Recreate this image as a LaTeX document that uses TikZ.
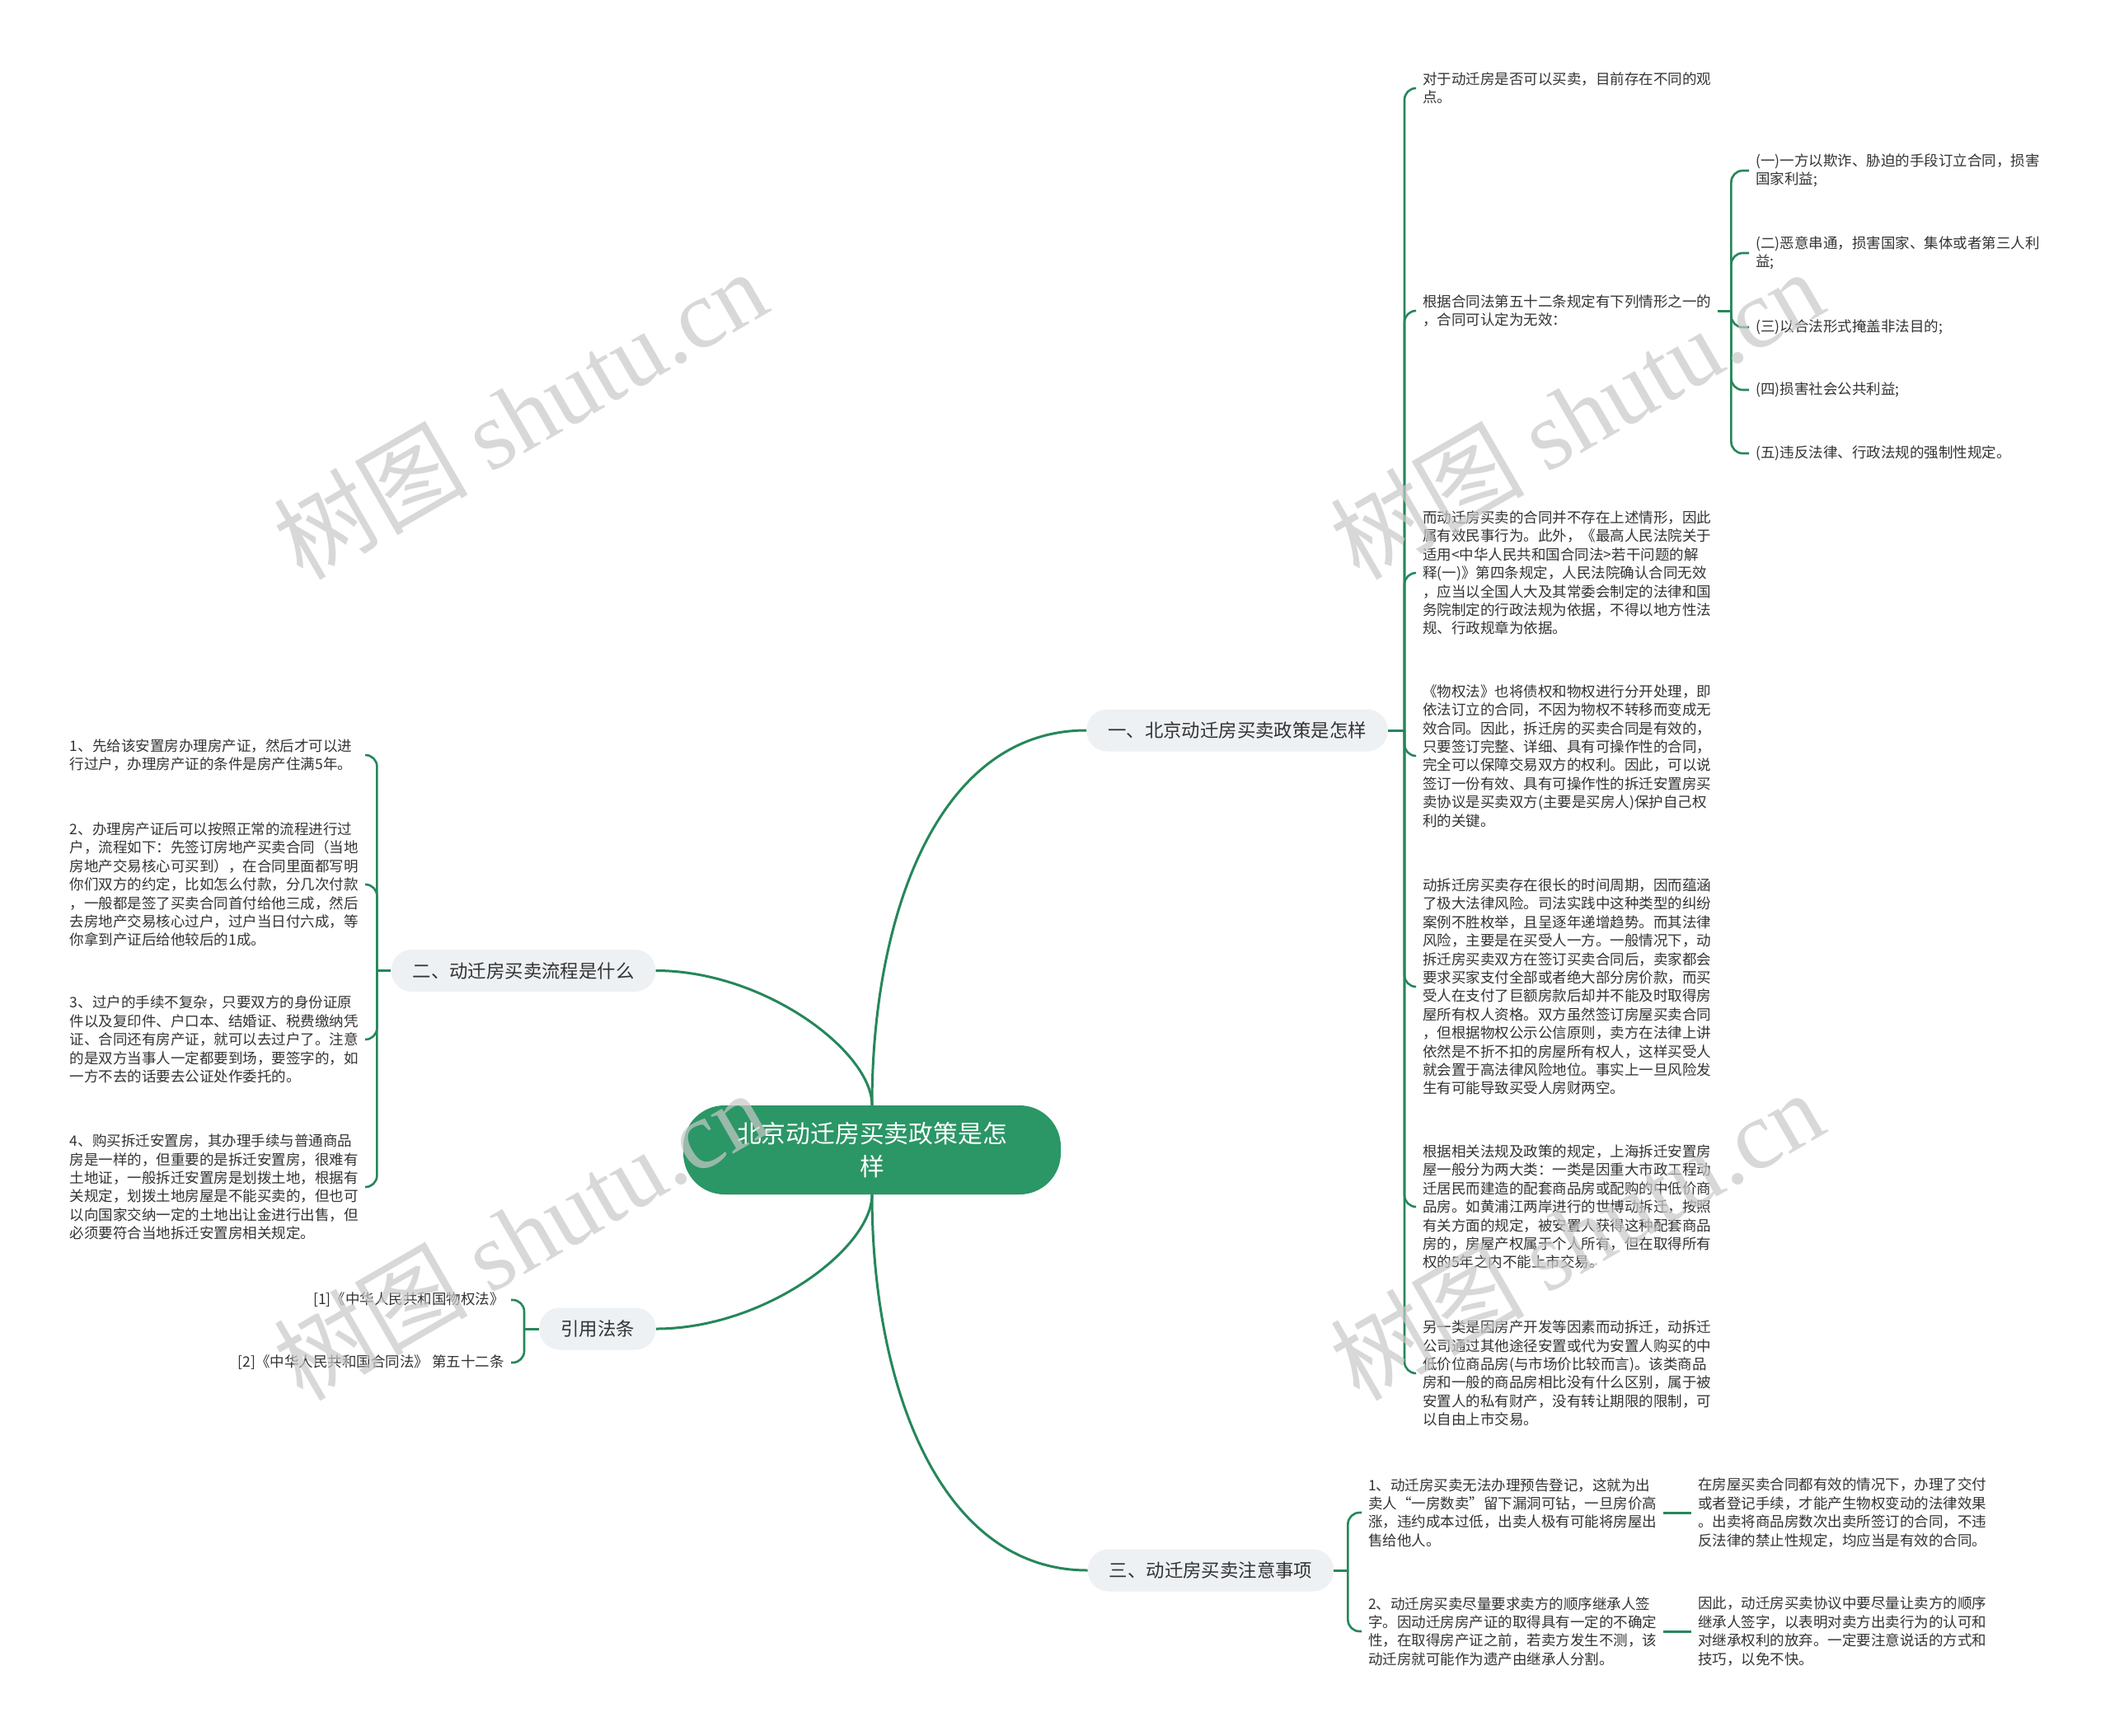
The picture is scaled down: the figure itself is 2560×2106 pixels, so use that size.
\documentclass[tikz,border=0pt]{standalone}
\usepackage{fontspec}
\setmainfont{Noto Sans CJK SC}
\newfontfamily\wmcjk{Noto Sans CJK SC}
\newfontfamily\wmlatin{Liberation Serif}
\usetikzlibrary{calc}
\definecolor{lk}{HTML}{25875A}
\definecolor{rootc}{HTML}{2B9666}
\definecolor{boxc}{HTML}{EEF1F4}
\definecolor{txt}{HTML}{333333}
\definecolor{wm}{RGB}{200,200,200}
\begin{document}
\begin{tikzpicture}[x=1pt,y=-1pt,
  leaf/.style={inner xsep=8, inner ysep=4, align=left, text=txt, font=\fontsize{17.5}{22.4}\selectfont},
  leafl/.style={leaf, text width=350},
  leafr/.style={leaf, align=right},
  branch/.style={fill=boxc, rounded corners=25, minimum height=51, inner xsep=26, text=txt, font=\fontsize{22.4}{28}\selectfont},
  rootn/.style={fill=rootc, rounded corners=50, minimum width=458, minimum height=108, text=white, align=center, font=\fontsize{29.8}{40}\selectfont},
  link/.style={draw=lk, line width=3},
  blink/.style={draw=lk, line width=2.6, rounded corners=14},
  wmk/.style={text=wm, text opacity=0.7, rotate=30, anchor=base, font=\fontsize{118}{130}\selectfont}
]
\fill[white] (0,0) rectangle (2560,2106);
\path[use as bounding box] (0,0) rectangle (2560,2106);

% root and branches
\node[rootn] (root) at (1058,1395) {北京动迁房买卖政策是怎\\样};
\node[branch] (b1) at (1501,886) {一、北京动迁房买卖政策是怎样};
\node[branch] (b2) at (635,1177.5) {二、动迁房买卖流程是什么};
\node[branch] (b3) at (725,1612) {引用法条};
\node[branch] (b4) at (1469,1905) {三、动迁房买卖注意事项};

\draw[link] (root.north) .. controls +(0,-227) and +(-182,0) .. (b1.west);
\draw[link] (root.north) .. controls +(0,-65) and +(132,0) .. (b2.east);
\draw[link] (root.south) .. controls +(0,65) and +(132,0) .. (b3.east);
\draw[link] (root.south) .. controls +(0,227) and +(-182,0) .. (b4.west);

% branch 1 children
\node[leaf, anchor=west] (c1) at (1718,107) {对于动迁房是否可以买卖，目前存在不同的观\\点。};
\node[leaf, anchor=west] (c2) at (1718,377) {根据合同法第五十二条规定有下列情形之一的\\，合同可认定为无效：};
\node[leaf, anchor=west] (c3) at (1718,695) {而动迁房买卖的合同并不存在上述情形，因此\\属有效民事行为。此外，《最高人民法院关于\\适用<中华人民共和国合同法>若干问题的解\\释(一)》第四条规定，人民法院确认合同无效\\，应当以全国人大及其常委会制定的法律和国\\务院制定的行政法规为依据，不得以地方性法\\规、行政规章为依据。};
\node[leaf, anchor=west] (c4) at (1718,917) {《物权法》也将债权和物权进行分开处理，即\\依法订立的合同，不因为物权不转移而变成无\\效合同。因此，拆迁房的买卖合同是有效的，\\只要签订完整、详细、具有可操作性的合同，\\完全可以保障交易双方的权利。因此，可以说\\签订一份有效、具有可操作性的拆迁安置房买\\卖协议是买卖双方(主要是买房人)保护自己权\\利的关键。};
\node[leaf, anchor=west] (c5) at (1718,1197) {动拆迁房买卖存在很长的时间周期，因而蕴涵\\了极大法律风险。司法实践中这种类型的纠纷\\案例不胜枚举，且呈逐年递增趋势。而其法律\\风险，主要是在买受人一方。一般情况下，动\\拆迁房买卖双方在签订买卖合同后，卖家都会\\要求买家支付全部或者绝大部分房价款，而买\\受人在支付了巨额房款后却并不能及时取得房\\屋所有权人资格。双方虽然签订房屋买卖合同\\，但根据物权公示公信原则，卖方在法律上讲\\依然是不折不扣的房屋所有权人，这样买受人\\就会置于高法律风险地位。事实上一旦风险发\\生有可能导致买受人房财两空。};
\node[leaf, anchor=west] (c6) at (1718,1464) {根据相关法规及政策的规定，上海拆迁安置房\\屋一般分为两大类：一类是因重大市政工程动\\迁居民而建造的配套商品房或配购的中低价商\\品房。如黄浦江两岸进行的世博动拆迁，按照\\有关方面的规定，被安置人获得这种配套商品\\房的，房屋产权属于个人所有，但在取得所有\\权的5年之内不能上市交易。};
\node[leaf, anchor=west] (c7) at (1718,1666) {另一类是因房产开发等因素而动拆迁，动拆迁\\公司通过其他途径安置或代为安置人购买的中\\低价位商品房(与市场价比较而言)。该类商品\\房和一般的商品房相比没有什么区别，属于被\\安置人的私有财产，没有转让期限的限制，可\\以自由上市交易。};

\coordinate (j1) at ($(b1.east)+(20,0)$);
\draw[link] (b1.east) -- (j1);
\foreach \c in {c1,c2,c3,c4,c5,c6,c7} \draw[blink] (j1) |- (\c.west);

% sub children of c2
\node[leaf, anchor=west] (s1) at (2122,207) {(一)一方以欺诈、胁迫的手段订立合同，损害\\国家利益;};
\node[leaf, anchor=west] (s2) at (2122,307) {(二)恶意串通，损害国家、集体或者第三人利\\益;};
\node[leaf, anchor=west] (s3) at (2122,397) {(三)以合法形式掩盖非法目的;};
\node[leaf, anchor=west] (s4) at (2122,473) {(四)损害社会公共利益;};
\node[leaf, anchor=west] (s5) at (2122,550) {(五)违反法律、行政法规的强制性规定。};
\coordinate (j2) at ($(c2.east)+(16,0)$);
\draw[link] (c2.east) -- (j2);
\foreach \c in {s1,s2,s3,s4,s5} \draw[blink] (j2) |- (\c.west);

% branch 2 children
\node[leafl, anchor=east] (l1) at (443,916) {1、先给该安置房办理房产证，然后才可以进\\行过户，办理房产证的条件是房产住满5年。};
\node[leafl, anchor=east] (l2) at (443,1073) {2、办理房产证后可以按照正常的流程进行过\\户，流程如下：先签订房地产买卖合同（当地\\房地产交易核心可买到），在合同里面都写明\\你们双方的约定，比如怎么付款，分几次付款\\，一般都是签了买卖合同首付给他三成，然后\\去房地产交易核心过户，过户当日付六成，等\\你拿到产证后给他较后的1成。};
\node[leafl, anchor=east] (l3) at (443,1261) {3、过户的手续不复杂，只要双方的身份证原\\件以及复印件、户口本、结婚证、税费缴纳凭\\证、合同还有房产证，就可以去过户了。注意\\的是双方当事人一定都要到场，要签字的，如\\一方不去的话要去公证处作委托的。};
\node[leafl, anchor=east] (l4) at (443,1440) {4、购买拆迁安置房，其办理手续与普通商品\\房是一样的，但重要的是拆迁安置房，很难有\\土地证，一般拆迁安置房是划拨土地，根据有\\关规定，划拨土地房屋是不能买卖的，但也可\\以向国家交纳一定的土地出让金进行出售，但\\必须要符合当地拆迁安置房相关规定。};
\coordinate (j3) at ($(b2.west)+(-17,0)$);
\draw[link] (b2.west) -- (j3);
\foreach \c in {l1,l2,l3,l4} \draw[blink] (j3) |- (\c.east);

% branch 3 children
\node[leafr, anchor=east] (r1) at (620,1577) {[1]《中华人民共和国物权法》};
\node[leafr, anchor=east] (r2) at (620,1653) {[2]《中华人民共和国合同法》 第五十二条};
\coordinate (j4) at ($(b3.west)+(-18,0)$);
\draw[link] (b3.west) -- (j4);
\foreach \c in {r1,r2} \draw[blink] (j4) |- (\c.east);

% branch 4 children
\node[leaf, anchor=west] (n1) at (1652,1835) {1、动迁房买卖无法办理预告登记，这就为出\\卖人“一房数卖”留下漏洞可钻，一旦房价高\\涨，违约成本过低，出卖人极有可能将房屋出\\售给他人。};
\node[leaf, anchor=west] (n2) at (1652,1979) {2、动迁房买卖尽量要求卖方的顺序继承人签\\字。因动迁房房产证的取得具有一定的不确定\\性，在取得房产证之前，若卖方发生不测，该\\动迁房就可能作为遗产由继承人分割。};
\coordinate (j5) at ($(b4.east)+(17,0)$);
\draw[link] (b4.east) -- (j5);
\foreach \c in {n1,n2} \draw[blink] (j5) |- (\c.west);

\node[leaf, anchor=west] (g1) at (2052,1835) {在房屋买卖合同都有效的情况下，办理了交付\\或者登记手续，才能产生物权变动的法律效果\\。出卖将商品房数次出卖所签订的合同，不违\\反法律的禁止性规定，均应当是有效的合同。};
\node[leaf, anchor=west] (g2) at (2052,1979) {因此，动迁房买卖协议中要尽量让卖方的顺序\\继承人签字，以表明对卖方出卖行为的认可和\\对继承权利的放弃。一定要注意说话的方式和\\技巧，以免不快。};
\draw[link] (n1.east) -- (g1.west);
\draw[link] (n2.east) -- (g2.west);

% watermarks
\node[wmk] (w1) at (653,541) {{\wmcjk 树图} {\wmlatin shutu.cn}};
\node[wmk] (w2) at (1935,541) {{\wmcjk 树图} {\wmlatin shutu.cn}};
\node[wmk] (w3) at (653,1537) {{\wmcjk 树图} {\wmlatin shutu.cn}};
\node[wmk] (w4) at (1935,1537) {{\wmcjk 树图} {\wmlatin shutu.cn}};
\end{tikzpicture}
\end{document}
